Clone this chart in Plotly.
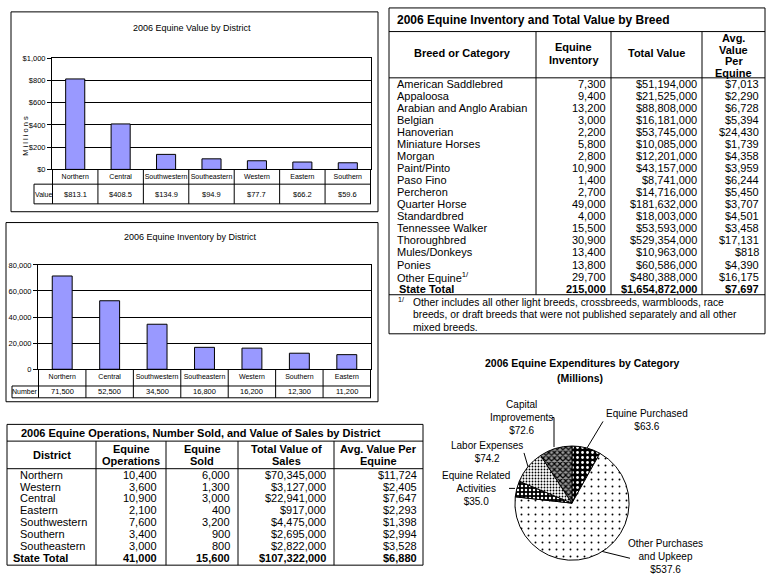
import plotly.graph_objects as go

# ---------------- DATA ----------------
value_districts = ["Northern", "Central", "Southwestern", "Southeastern", "Western", "Eastern", "Southern"]
value_millions = [813.1, 408.5, 134.9, 94.9, 77.7, 66.2, 59.6]

inv_districts = ["Northern", "Central", "Southwestern", "Southeastern", "Western", "Southern", "Eastern"]
inv_number = [71500, 52500, 34500, 16800, 16200, 12300, 11200]

breeds = ["American Saddlebred", "Appaloosa", "Arabian and Anglo Arabian", "Belgian", "Hanoverian",
          "Miniature Horses", "Morgan", "Paint/Pinto", "Paso Fino", "Percheron", "Quarter Horse",
          "Standardbred", "Tennessee Walker", "Thoroughbred", "Mules/Donkeys", "Ponies", "Other Equine"]
breed_inventory = [7300, 9400, 13200, 3000, 2200, 5800, 2800, 10900, 1400, 2700, 49000, 4000,
                   15500, 30900, 13400, 13800, 29700]
breed_value = [51194000, 21525000, 88808000, 16181000, 53745000, 10085000, 12201000, 43157000,
               8741000, 14716000, 181632000, 18003000, 53593000, 529354000, 10963000, 60586000,
               480388000]
breed_avg = [7013, 2290, 6728, 5394, 24430, 1739, 4358, 3959, 6244, 5450, 3707, 4501, 3458,
             17131, 818, 4390, 16175]
breed_total = ["State Total", 215000, 1654872000, 7697]
breed_footnote = ["Other includes all other light breeds, crossbreeds, warmbloods, race",
                  "breeds, or draft breeds that were not published separately and all other",
                  "mixed breeds."]

ops_districts = ["Northern", "Western", "Central", "Eastern", "Southwestern", "Southern", "Southeastern"]
ops_operations = [10400, 3600, 10900, 2100, 7600, 3400, 3000]
ops_sold = [6000, 1300, 3000, 400, 3200, 900, 800]
ops_sales = [70345000, 3127000, 22941000, 917000, 4475000, 2695000, 2822000]
ops_avg = [11724, 2405, 7647, 2293, 1398, 2994, 3528]
ops_total = ["State Total", 41000, 15600, 107322000, 6880]

exp_categories = ["Equine Purchased", "Other Purchases and Upkeep", "Equine Related Activities",
                  "Labor Expenses", "Capital Improvements"]
exp_label_text = ["Equine Purchased", "Other Purchases<br>and Upkeep", "Equine Related<br>Activities",
                  "Labor Expenses", "Capital<br>Improvements"]
exp_millions = [63.6, 537.6, 35.0, 74.2, 72.6]

# ---------------- HELPERS ----------------
W, H = 772, 581
def X(p): return p / W
def Y(p): return 1 - p / H

SMALL = "Liberation Sans, Arial, sans-serif"
ARIAL = "Liberation Sans, Arial, sans-serif"

shapes = []
annos = []

def line(x0, y0, x1, y1, w=1, color="black"):
    shapes.append(dict(type="line", xref="paper", yref="paper", x0=X(x0), y0=Y(y0), x1=X(x1), y1=Y(y1),
                       line=dict(color=color, width=w)))

def rect(x0, y0, x1, y1, w=1):
    shapes.append(dict(type="rect", xref="paper", yref="paper", x0=X(x0), y0=Y(y0), x1=X(x1), y1=Y(y1),
                       line=dict(color="black", width=w), fillcolor="rgba(0,0,0,0)"))

def text(x, y, s, size=11, anchor="left", bold=False, font=ARIAL):
    if bold:
        s = "<b>" + s + "</b>"
    annos.append(dict(xref="paper", yref="paper", x=X(x), y=Y(y), text=s, showarrow=False,
                      xanchor=anchor, yanchor="middle", font=dict(family=font, size=size, color="black"),
                      borderpad=0))

fig = go.Figure()

# ---------------- CHART 1: Value by district ----------------
fig.add_trace(go.Bar(x=value_districts, y=value_millions, xaxis="x", yaxis="y", width=0.42,
                     marker=dict(color="#9999FF", line=dict(color="black", width=1))))
rect(11, 8, 378, 211)
text(192, 24, "2006 Equine Value by District", size=9, anchor="center", font=SMALL)
annos.append(dict(xref="paper", yref="paper", x=X(19), y=Y(112), text="M i l l i o n s", showarrow=False,
                  textangle=-90, font=dict(family=SMALL, size=7.5, color="black")))
c1_top, c1_mid, c1_bot, c1_lab = 168, 183, 203, 34
line(c1_lab, c1_mid, 371, c1_mid)
line(c1_lab, c1_bot, 371, c1_bot)
line(c1_lab, c1_mid, c1_lab, c1_bot)
for i in range(len(value_districts) + 1):
    shapes.append(dict(type="line", xref="x", yref="paper", x0=i - 0.5, x1=i - 0.5,
                       y0=Y(c1_top), y1=Y(c1_bot), line=dict(color="black", width=1)))
text(43, (c1_mid + c1_bot) / 2, "Value", size=7, anchor="center", font=SMALL)
for d, v in zip(value_districts, value_millions):
    annos.append(dict(xref="x", yref="paper", x=d, y=Y((c1_mid + c1_bot) / 2), text="$%.1f" % v,
                      showarrow=False, yanchor="middle", font=dict(family=SMALL, size=7.5, color="black")))

# ---------------- CHART 2: Inventory by district ----------------
fig.add_trace(go.Bar(x=inv_districts, y=inv_number, xaxis="x2", yaxis="y2", width=0.42,
                     marker=dict(color="#9999FF", line=dict(color="black", width=1))))
rect(6, 222, 378, 404)
text(190, 237, "2006 Equine Inventory by District", size=9, anchor="center", font=SMALL)
c2_top, c2_mid, c2_bot, c2_lab = 371, 388, 400, 12
line(c2_lab, c2_mid, 371, c2_mid)
line(c2_lab, c2_bot, 371, c2_bot)
line(c2_lab, c2_mid, c2_lab, c2_bot)
for i in range(len(inv_districts) + 1):
    shapes.append(dict(type="line", xref="x2", yref="paper", x0=i - 0.5, x1=i - 0.5,
                       y0=Y(c2_top), y1=Y(c2_bot), line=dict(color="black", width=1)))
text(25, (c2_mid + c2_bot) / 2, "Number", size=7, anchor="center", font=SMALL)
for d, v in zip(inv_districts, inv_number):
    annos.append(dict(xref="x2", yref="paper", x=d, y=Y((c2_mid + c2_bot) / 2), text="{:,}".format(v),
                      showarrow=False, yanchor="middle", font=dict(family=SMALL, size=7.5, color="black")))

axis_common = dict(showline=True, linecolor="black", linewidth=1, mirror=True, fixedrange=True)
xtick = dict(family=SMALL, size=7, color="black")
ytick = dict(family=SMALL, size=7.5, color="black")
fig.update_layout(
    xaxis=dict(domain=[X(52), X(371)], anchor="y", type="category", ticks="", tickangle=0,
               tickfont=xtick, **axis_common),
    yaxis=dict(domain=[Y(168), Y(55)], anchor="x", range=[0, 1000], dtick=200, tickprefix="$",
               tickformat=",", showgrid=True, gridcolor="black", gridwidth=1, zeroline=False,
               ticks="outside", ticklen=4, tickcolor="black", tickfont=ytick, **axis_common),
    xaxis2=dict(domain=[X(38), X(371)], anchor="y2", type="category", ticks="", tickangle=0,
                tickfont=xtick, **axis_common),
    yaxis2=dict(domain=[Y(371), Y(265)], anchor="x2", range=[0, 80000], dtick=20000,
                tickformat=",", showgrid=True, gridcolor="black", gridwidth=1, zeroline=False,
                ticks="outside", ticklen=4, tickcolor="black", tickfont=ytick, **axis_common),
)

# ---------------- BREED TABLE ----------------
bl, br = 389, 765
bcols = [536, 611, 702]
btop, btitle, bhead, brow0, bpitch = 4, 28, 75, 81, 12.24
nrows = len(breeds) + 1
bdata_bot = bhead + nrows * bpitch
bbot = 335
rect(bl, btop, br, bbot)
line(bl, btitle, br, btitle)
line(bl, bhead, br, bhead)
line(bl, bdata_bot, br, bdata_bot)
for cx in bcols:
    line(cx, btitle, cx, bdata_bot)
text(396, 16, "2006 Equine Inventory and Total Value by Breed", size=12, bold=True)
text((bl + bcols[0]) / 2, 50, "Breed or Category", size=11, anchor="center", bold=True)
text((bcols[0] + bcols[1]) / 2, 44, "Equine", size=11, anchor="center", bold=True)
text((bcols[0] + bcols[1]) / 2, 57, "Inventory", size=11, anchor="center", bold=True)
text((bcols[1] + bcols[2]) / 2, 50, "Total Value", size=11, anchor="center", bold=True)
for k, w in enumerate(["Avg.", "Value", "Per", "Equine"]):
    text((bcols[2] + br) / 2, 35 + k * 11.7, w, size=11, anchor="center", bold=True)
for i, b in enumerate(breeds):
    y = brow0 + i * bpitch
    lab = b + ("<sup>1/</sup>" if b == "Other Equine" else "")
    text(396, y, lab, size=11)
    text(bcols[1] - 4, y, "{:,}".format(breed_inventory[i]), size=11, anchor="right")
    text(bcols[2] - 4, y, "${:,}".format(breed_value[i]), size=11, anchor="right")
    text(br - 5, y, "${:,}".format(breed_avg[i]), size=11, anchor="right")
yt = brow0 + len(breeds) * bpitch
text(398, yt, breed_total[0], size=11, bold=True)
text(bcols[1] - 4, yt, "{:,}".format(breed_total[1]), size=11, anchor="right", bold=True)
text(bcols[2] - 4, yt, "${:,}".format(breed_total[2]), size=11, anchor="right", bold=True)
text(br - 5, yt, "${:,}".format(breed_total[3]), size=11, anchor="right", bold=True)
text(397, 300, "<sup>1/</sup>", size=10)
for k, s in enumerate(breed_footnote):
    text(412, 303.5 + k * 12.3, s, size=10.3)

# ---------------- OPERATIONS TABLE ----------------
ol, orr = 7, 423
ocols = [96, 166, 238, 334]
otop, otitle, ohead, orow0, opitch = 427, 444, 472, 478, 12.1
obot = 570
rect(ol, otop, orr, obot)
line(ol, otitle, orr, otitle)
line(ol, ohead, orr, ohead)
for cx in ocols:
    line(cx, otitle, cx, obot)
text(20, 436, "2006 Equine Operations, Number Sold, and Value of Sales by District",
     size=11, bold=True)
text((ol + ocols[0]) / 2, 458, "District", size=11, anchor="center", bold=True)
hdrs = [("Equine", "Operations"), ("Equine", "Sold"), ("Total Value of", "Sales"), ("Avg. Value Per", "Equine")]
edges = [ocols[0], ocols[1], ocols[2], ocols[3], orr]
for j, (a, b) in enumerate(hdrs):
    cxm = (edges[j] + edges[j + 1]) / 2
    text(cxm, 451.5, a, size=11, anchor="center", bold=True)
    text(cxm, 464.5, b, size=11, anchor="center", bold=True)
num_right = [158, 231, 327, 418]
for i, d in enumerate(ops_districts):
    y = orow0 + i * opitch
    text(19, y, d, size=11)
    text(num_right[0], y, "{:,}".format(ops_operations[i]), size=11, anchor="right")
    text(num_right[1], y, "{:,}".format(ops_sold[i]), size=11, anchor="right")
    text(num_right[2], y, "${:,}".format(ops_sales[i]), size=11, anchor="right")
    text(num_right[3], y, "${:,}".format(ops_avg[i]), size=11, anchor="right")
yt = orow0 + len(ops_districts) * opitch
text(12, yt, ops_total[0], size=11, bold=True)
text(num_right[0], yt, "{:,}".format(ops_total[1]), size=11, anchor="right", bold=True)
text(num_right[1], yt, "{:,}".format(ops_total[2]), size=11, anchor="right", bold=True)
text(num_right[2], yt, "${:,}".format(ops_total[3]), size=11, anchor="right", bold=True)
text(num_right[3], yt, "${:,}".format(ops_total[4]), size=11, anchor="right", bold=True)

# ---------------- PIE ----------------
pcx, pcy, pr = 572, 507, 58
fig.add_trace(go.Pie(
    labels=exp_categories, values=exp_millions, sort=False, direction="clockwise", rotation=0,
    textinfo="none", hoverinfo="label+value",
    domain=dict(x=[X(pcx - pr), X(pcx + pr)], y=[Y(pcy + pr), Y(pcy - pr)]),
    marker=dict(colors=["black", "white", "black", "white", "white"],
                line=dict(color="black", width=1),
                pattern=dict(shape=[".", ".", ".", ".", "x"],
                             fgcolor=["white", "black", "white", "black", "black"],
                             bgcolor=["black", "white", "black", "white", "#999999"],
                             size=[5, 7, 4, 3, 4],
                             solidity=[0.25, 0.06, 0.3, 0.3, 0.5]))))
text(582, 365, "2006 Equine Expenditures by Category", size=10.5, anchor="center", bold=True)
text(580, 380, "(Millions)", size=10.5, anchor="center", bold=True)
label_pos = [(647, 423), (665, 561), (476, 492), (487, 455), (521, 420)]
for lab, v, (lx, ly) in zip(exp_label_text, exp_millions, label_pos):
    annos.append(dict(xref="paper", yref="paper", x=X(lx), y=Y(ly), text=lab + "<br>$%.1f" % v,
                      showarrow=False, xanchor="center", yanchor="middle", align="center",
                      font=dict(family=ARIAL, size=10, color="black")))
# leader lines
line(603, 424, 587, 451)
line(602, 556, 630, 563)
line(509, 492, 515, 492)
line(524, 456, 528, 470)
line(552, 420, 554, 420)
line(554, 420, 554, 450)

fig.update_layout(width=W, height=H, margin=dict(l=0, r=0, t=0, b=0), showlegend=False,
                  paper_bgcolor="white", plot_bgcolor="white", shapes=shapes, annotations=annos)
fig.write_html("out.html", config={"displayModeBar": False},
               post_script="document.body.style.margin='0';")
